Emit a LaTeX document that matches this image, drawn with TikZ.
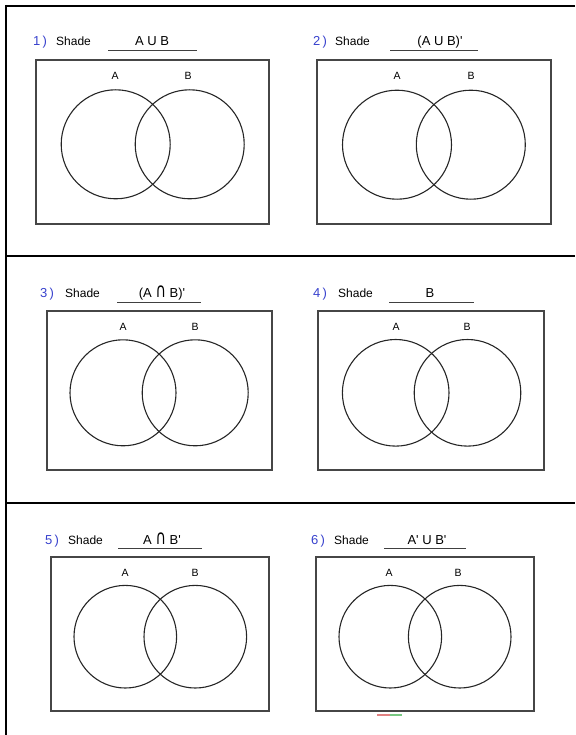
\documentclass[tikz,border=0pt]{standalone}
\usepackage{fontspec}
\setmainfont{Liberation Sans}
\newfontfamily\symfont{DejaVu Sans}
\usepackage{graphicx}
\usepackage{tikz}
\usetikzlibrary{positioning}
\usepackage{xcolor}
\definecolor{numblue}{RGB}{55,65,205}
\definecolor{boxgray}{RGB}{70,70,70}
\definecolor{markred}{RGB}{225,130,130}
\definecolor{markgreen}{RGB}{120,200,130}
\newcommand{\capsym}{\scalebox{1.1}[1.55]{\symfont ∩}}

\begin{document}
\begin{tikzpicture}[
        x=1pt,
        y=-1pt,
        universe/.style={
            rectangle,
            draw=boxgray,
            line width=1.2pt,
            inner sep=0pt
        },
        set/.style={
            circle,
            draw=black!85,
            line width=1.1pt,
            inner sep=0pt
        },
        setname/.style={font=\fontsize{10.5}{12}\selectfont, inner sep=0pt, anchor=base},
        num/.style={text=numblue, font=\fontsize{13}{15}\selectfont, inner sep=0pt, anchor=base west},
        word/.style={font=\fontsize{12}{14}\selectfont, inner sep=0pt, anchor=base west},
        expr/.style={font=\fontsize{13}{15}\selectfont, inner sep=0pt, anchor=base},
        blank/.style={draw=black!75, line width=0.8pt},
        frame/.style={line width=2pt}
    ]

    \useasboundingbox (0,0) rectangle (575,735);

    % OUTER FRAME AND ROW DIVIDERS
    \draw[frame] (6,5) -- (6,735);
    \draw[frame] (5,6) -- (575,6);
    \draw[frame] (6,256) -- (575,256);
    \draw[frame] (6,503) -- (575,503);

    % PANEL 1: A U B
    \node[num] (n1) at (33,46) {1\,)};
    \node[word] (w1) at (56,46) {Shade};
    \node[expr] (e1) at (152,46) {A U B};
    \coordinate (u1a) at (108,50);
    \coordinate (u1b) at (197,50);
    \draw[blank] (u1a) -- (u1b);
    \node[universe, minimum width=233, minimum height=164] (U1) at (152.5,142) {};
    \node[set, minimum size=109] (A1) at (115.7,144.3) {};
    \node[set, minimum size=109] (B1) at (189.7,144.3) {};
    \node[setname] (a1) at (115,80) {A};
    \node[setname] (b1) at (188,80) {B};

    % PANEL 2: (A U B)'
    \node[num] (n2) at (313,46) {2\,)};
    \node[word] (w2) at (335,46) {Shade};
    \node[expr] (e2) at (440,46) {(A U B)\textquotesingle};
    \coordinate (u2a) at (390,50);
    \coordinate (u2b) at (478,50);
    \draw[blank] (u2a) -- (u2b);
    \node[universe, minimum width=234, minimum height=164] (U2) at (434,142) {};
    \node[set, minimum size=109] (A2) at (397,144.7) {};
    \node[set, minimum size=109] (B2) at (470.8,144.7) {};
    \node[setname] (a2) at (397,80) {A};
    \node[setname] (b2) at (471,80) {B};

    % PANEL 3: (A n B)'
    \node[num] (n3) at (40,297) {3\,)};
    \node[word] (w3) at (65,297) {Shade};
    \node[expr] (e3) at (162,297) {(A \capsym\ B)\textquotesingle};
    \coordinate (u3a) at (117,302);
    \coordinate (u3b) at (201,302);
    \draw[blank] (u3a) -- (u3b);
    \node[universe, minimum width=225, minimum height=159] (U3) at (159.5,390.5) {};
    \node[set, minimum size=106] (A3) at (123,392.8) {};
    \node[set, minimum size=106] (B3) at (195.2,392.8) {};
    \node[setname] (a3) at (123,330.5) {A};
    \node[setname] (b3) at (195,330.5) {B};

    % PANEL 4: B
    \node[num] (n4) at (313,297) {4\,)};
    \node[word] (w4) at (338,297) {Shade};
    \node[expr] (e4) at (430,297) {B};
    \coordinate (u4a) at (389,302);
    \coordinate (u4b) at (474,302);
    \draw[blank] (u4a) -- (u4b);
    \node[universe, minimum width=226, minimum height=159] (U4) at (431,390.5) {};
    \node[set, minimum size=106.6] (A4) at (395.7,392.8) {};
    \node[set, minimum size=106.6] (B4) at (467.5,392.8) {};
    \node[setname] (a4) at (396,330.5) {A};
    \node[setname] (b4) at (467,330.5) {B};

    % PANEL 5: A n B'
    \node[num] (n5) at (45,544) {5\,)};
    \node[word] (w5) at (68,544) {Shade};
    \node[expr] (e5) at (162,544) {A \capsym\ B\textquotesingle};
    \coordinate (u5a) at (118,548);
    \coordinate (u5b) at (202,548);
    \draw[blank] (u5a) -- (u5b);
    \node[universe, minimum width=218, minimum height=154] (U5) at (160,634) {};
    \node[set, minimum size=102.6] (A5) at (125.3,636.7) {};
    \node[set, minimum size=102.6] (B5) at (195.3,636.7) {};
    \node[setname] (a5) at (125,576) {A};
    \node[setname] (b5) at (195,576) {B};

    % PANEL 6: A' U B'
    \node[num] (n6) at (311,544) {6\,)};
    \node[word] (w6) at (334,544) {Shade};
    \node[expr] (e6) at (427,544) {A\textquotesingle\ U B\textquotesingle};
    \coordinate (u6a) at (384,548);
    \coordinate (u6b) at (466,548);
    \draw[blank] (u6a) -- (u6b);
    \node[universe, minimum width=218, minimum height=154] (U6) at (425,634) {};
    \node[set, minimum size=102.6] (A6) at (390.3,636.7) {};
    \node[set, minimum size=102.6] (B6) at (459.7,636.7) {};
    \node[setname] (a6) at (389,576) {A};
    \node[setname] (b6) at (458,576) {B};

    % small colour mark under panel 6
    \draw[markred, line width=1.2pt] (377,715) -- (390,715);
    \draw[markgreen, line width=1.2pt] (390,715) -- (402,715);

\end{tikzpicture}
\end{document}
